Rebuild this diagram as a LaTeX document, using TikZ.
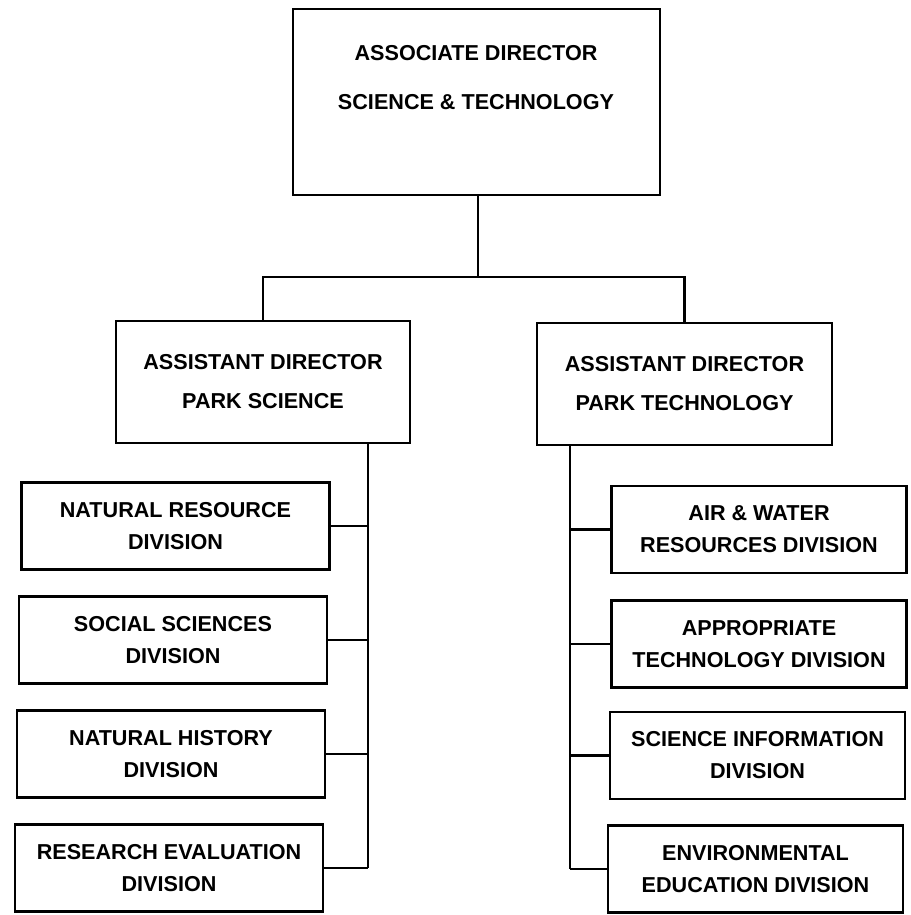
\documentclass[tikz,border=0pt]{standalone}
\usepackage{fontspec}
\setmainfont{Liberation Sans}
\begin{document}
\begin{tikzpicture}[x=1pt,y=-1pt,
  every node/.style={font=\bfseries\fontsize{21.6}{32}\selectfont},
  box/.style={draw, line width=2.8pt, rectangle, inner sep=0pt, align=center},
  lbox/.style={box, minimum width=308pt, minimum height=87pt},
  rbox/.style={box, minimum width=295pt, minimum height=87pt},
  dbox/.style={box, minimum width=294pt, minimum height=122pt, font=\bfseries\fontsize{21.6}{39}\selectfont},
  conn/.style={line width=2.8pt}]
\useasboundingbox (0,0) rectangle (910,915);

% top
\node[box, minimum width=367pt, minimum height=186pt] (top) at (476.5,102) {};
\node[align=center, font=\bfseries\fontsize{21.6}{49}\selectfont] (toptext) at (476,77.5) {ASSOCIATE DIRECTOR\\SCIENCE \& TECHNOLOGY};

% assistant directors
\node[dbox] (psci) at (263,382) {ASSISTANT DIRECTOR\\PARK SCIENCE};
\node[dbox, minimum width=295pt] (ptech) at (684.5,384) {ASSISTANT DIRECTOR\\PARK TECHNOLOGY};

% left divisions
\node[lbox] (L1) at (175.5,526) {NATURAL RESOURCE\\DIVISION};
\node[lbox] (L2) at (173,640) {SOCIAL SCIENCES\\DIVISION};
\node[lbox] (L3) at (171,754) {NATURAL HISTORY\\DIVISION};
\node[lbox] (L4) at (169,868) {RESEARCH EVALUATION\\DIVISION};

% right divisions
\node[rbox] (R1) at (759,529.5) {AIR \& WATER\\RESOURCES DIVISION};
\node[rbox] (R2) at (759,644) {APPROPRIATE\\TECHNOLOGY DIVISION};
\node[rbox] (R3) at (757.5,755.5) {SCIENCE INFORMATION\\DIVISION};
\node[rbox] (R4) at (755.5,869) {ENVIRONMENTAL\\EDUCATION DIVISION};

% connectors
\coordinate (j) at (478,277);
\coordinate (lb) at (368,0);
\coordinate (rb) at (570,0);
\draw[conn] (top.south -| j) -- (j);
\draw[conn] (psci.north) |- (j) -| (ptech.north);

\draw[conn] (psci.south -| lb) -- (L4.east -| lb);
\foreach \n in {L1,L2,L3,L4} \draw[conn] (\n.east) -- (\n.east -| lb);

\draw[conn] (ptech.south -| rb) -- (R4.west -| rb);
\foreach \n in {R1,R2,R3,R4} \draw[conn] (\n.west) -- (\n.west -| rb);
\end{tikzpicture}
\end{document}
